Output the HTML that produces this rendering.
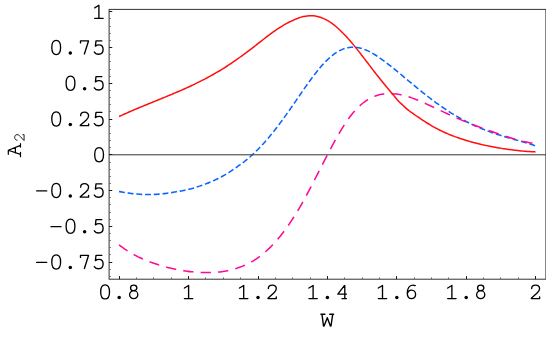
<!DOCTYPE html>
<html><head><meta charset="utf-8"><style>
html,body{margin:0;padding:0;background:#fff;}
svg{display:block;}
text{font-family:"Liberation Mono",monospace;fill:#111;}
</style></head><body>
<svg width="546" height="337" viewBox="0 0 546 337">
<rect width="546" height="337" fill="#fff"/>
<g fill="none" stroke-linecap="butt" stroke-linejoin="round">
<path d="M119.10 191.49 C120.10 191.69 121.11 191.89 122.11 192.07 C123.11 192.26 124.12 192.43 125.12 192.60 C126.12 192.77 127.13 192.92 128.13 193.07 C129.13 193.21 130.14 193.35 131.14 193.47 C132.14 193.59 133.15 193.71 134.15 193.81 C135.15 193.91 136.16 194.00 137.16 194.09 C138.16 194.17 139.17 194.24 140.17 194.30 C141.17 194.36 142.18 194.41 143.18 194.44 C144.18 194.48 145.19 194.51 146.19 194.52 C147.19 194.54 148.20 194.54 149.20 194.54 C150.20 194.53 151.21 194.51 152.21 194.48 C153.21 194.45 154.22 194.41 155.22 194.36 C156.23 194.31 157.23 194.25 158.23 194.18 C159.24 194.10 160.24 194.02 161.24 193.92 C162.25 193.83 163.25 193.72 164.25 193.61 C165.26 193.49 166.26 193.36 167.26 193.23 C168.27 193.09 169.27 192.94 170.27 192.78 C171.28 192.62 172.28 192.45 173.28 192.27 C174.29 192.09 175.29 191.89 176.29 191.71 C177.30 191.54 178.30 191.37 179.30 191.20 C180.31 191.02 181.31 190.85 182.31 190.65 C183.32 190.45 184.32 190.24 185.32 190.03 C186.33 189.82 187.33 189.60 188.33 189.37 C189.34 189.14 190.34 188.90 191.34 188.64 C192.35 188.39 193.35 188.12 194.35 187.83 C195.36 187.54 196.36 187.23 197.36 186.89 C198.37 186.56 199.37 186.22 200.37 185.87 C201.38 185.52 202.38 185.16 203.38 184.79 C204.39 184.42 205.39 184.04 206.39 183.65 C207.40 183.26 208.40 182.86 209.40 182.45 C210.41 182.04 211.41 181.62 212.41 181.18 C213.42 180.74 214.42 180.28 215.42 179.81 C216.43 179.34 217.43 178.86 218.43 178.36 C219.44 177.87 220.44 177.36 221.44 176.82 C222.45 176.28 223.45 175.72 224.46 175.14 C225.46 174.56 226.46 173.96 227.47 173.34 C228.47 172.73 229.47 172.09 230.48 171.42 C231.48 170.75 232.48 170.06 233.49 169.37 C234.49 168.68 235.49 168.00 236.50 167.33 C237.50 166.65 238.50 165.95 239.51 165.23 C240.51 164.51 241.51 163.77 242.52 163.01 C243.52 162.25 244.52 161.46 245.53 160.65 C246.53 159.84 247.53 159.01 248.54 158.15 C249.54 157.29 250.54 156.41 251.55 155.50 C252.55 154.60 253.55 153.66 254.56 152.71 C255.56 151.75 256.56 150.77 257.57 149.76 C258.57 148.75 259.57 147.72 260.58 146.66 C261.58 145.60 262.58 144.52 263.59 143.41 C264.59 142.30 265.59 141.17 266.60 140.01 C267.60 138.86 268.60 137.68 269.61 136.48 C270.61 135.27 271.61 134.05 272.62 132.80 C273.62 131.55 274.62 130.28 275.63 128.99 C276.63 127.70 277.63 126.40 278.64 125.07 C279.64 123.74 280.64 122.39 281.65 121.03 C282.65 119.67 283.65 118.29 284.66 116.90 C285.66 115.50 286.66 114.09 287.67 112.67 C288.67 111.26 289.67 109.82 290.68 108.39 C291.68 106.95 292.69 105.50 293.69 104.05 C294.69 102.59 295.70 101.14 296.70 99.68 C297.70 98.22 298.71 96.76 299.71 95.30 C300.71 93.84 301.72 92.39 302.72 90.94 C303.72 89.49 304.73 88.05 305.73 86.63 C306.73 85.20 307.74 83.78 308.74 82.39 C309.74 80.99 310.75 79.61 311.75 78.25 C312.75 76.89 313.76 75.56 314.76 74.25 C315.76 72.95 316.77 71.67 317.77 70.43 C318.77 69.19 319.78 67.98 320.78 66.82 C321.78 65.65 322.79 64.52 323.79 63.44 C324.79 62.36 325.80 61.33 326.80 60.34 C327.80 59.36 328.81 58.42 329.81 57.53 C330.81 56.65 331.82 55.82 332.82 55.04 C333.82 54.26 334.83 53.54 335.83 52.88 C336.83 52.21 337.84 51.61 338.84 51.06 C339.84 50.51 340.85 50.02 341.85 49.59 C342.85 49.16 343.86 48.78 344.86 48.47 C345.86 48.16 346.87 47.90 347.87 47.71 C348.87 47.51 349.88 47.38 350.88 47.30 C351.88 47.22 352.89 47.19 353.89 47.23 C354.89 47.26 355.90 47.34 356.90 47.48 C357.90 47.62 358.91 47.81 359.91 48.05 C360.91 48.29 361.92 48.58 362.92 48.92 C363.93 49.25 364.93 49.63 365.93 50.05 C366.94 50.46 367.94 50.92 368.94 51.42 C369.95 51.91 370.95 52.44 371.95 53.00 C372.96 53.56 373.96 54.15 374.96 54.77 C375.97 55.38 376.97 56.03 377.97 56.69 C378.98 57.36 379.98 58.05 380.98 58.76 C381.99 59.47 382.99 60.20 383.99 60.94 C385.00 61.69 386.00 62.45 387.00 63.22 C388.01 64.00 389.01 64.78 390.01 65.58 C391.02 66.37 392.02 67.18 393.02 67.99 C394.03 68.81 395.03 69.63 396.03 70.46 C397.04 71.28 398.04 72.11 399.04 72.95 C400.05 73.78 401.05 74.62 402.05 75.46 C403.06 76.30 404.06 77.14 405.06 77.98 C406.07 78.82 407.07 79.66 408.07 80.49 C409.08 81.33 410.08 82.17 411.08 83.00 C412.09 83.83 413.09 84.66 414.09 85.49 C415.10 86.32 416.10 87.14 417.10 87.96 C418.11 88.78 419.11 89.59 420.11 90.40 C421.12 91.21 422.12 92.01 423.12 92.81 C424.13 93.61 425.13 94.40 426.13 95.18 C427.14 95.96 428.14 96.74 429.14 97.51 C430.15 98.28 431.15 99.04 432.16 99.79 C433.16 100.54 434.16 101.29 435.17 102.02 C436.17 102.76 437.17 103.48 438.18 104.20 C439.18 104.92 440.18 105.62 441.19 106.32 C442.19 107.02 443.19 107.71 444.20 108.38 C445.20 109.06 446.20 109.73 447.21 110.38 C448.21 111.04 449.21 111.69 450.22 112.32 C451.22 112.96 452.22 113.58 453.23 114.19 C454.23 114.81 455.23 115.41 456.24 116.00 C457.24 116.59 458.24 117.17 459.25 117.74 C460.25 118.31 461.25 118.87 462.26 119.41 C463.26 119.96 464.26 120.50 465.27 121.02 C466.27 121.54 467.27 122.06 468.28 122.56 C469.28 123.06 470.28 123.56 471.29 124.04 C472.29 124.52 473.29 124.99 474.30 125.45 C475.30 125.91 476.30 126.36 477.31 126.80 C478.31 127.23 479.31 127.66 480.32 128.08 C481.32 128.50 482.32 128.91 483.33 129.31 C484.33 129.71 485.33 130.10 486.34 130.49 C487.34 130.87 488.34 131.24 489.35 131.61 C490.35 131.97 491.35 132.33 492.36 132.68 C493.36 133.03 494.36 133.38 495.37 133.71 C496.37 134.05 497.37 134.38 498.38 134.70 C499.38 135.02 500.39 135.34 501.39 135.65 C502.39 135.96 503.40 136.27 504.40 136.57 C505.40 136.88 506.41 137.17 507.41 137.47 C508.41 137.76 509.42 138.06 510.42 138.34 C511.42 138.63 512.43 138.92 513.43 139.21 C514.43 139.49 515.44 139.78 516.44 140.06 C517.44 140.35 518.45 140.63 519.45 140.92 C520.45 141.21 521.46 141.50 522.46 141.79 C523.46 142.08 524.47 142.37 525.47 142.67 C526.47 142.96 527.48 143.26 528.48 143.57 C529.48 143.87 530.49 144.19 531.49 144.50 C532.49 144.82 533.50 145.15 534.50 145.48" stroke="#0a64ff" stroke-width="1.55" stroke-linecap="square" stroke-dasharray="4.368 4.368" stroke-dashoffset="-0.7"/>
<path d="M119.10 244.99 C120.11 245.76 121.11 246.50 122.12 247.21 C123.12 247.93 124.13 248.62 125.13 249.29 C126.14 249.96 127.14 250.60 128.15 251.23 C129.15 251.85 130.16 252.46 131.16 253.04 C132.17 253.63 133.17 254.19 134.18 254.74 C135.19 255.28 136.19 255.81 137.20 256.32 C138.20 256.83 139.21 257.32 140.21 257.80 C141.22 258.27 142.22 258.73 143.23 259.18 C144.23 259.62 145.24 260.05 146.24 260.47 C147.25 260.89 148.25 261.29 149.26 261.68 C150.26 262.06 151.27 262.44 152.28 262.80 C153.28 263.16 154.29 263.51 155.29 263.85 C156.30 264.19 157.30 264.52 158.31 264.83 C159.31 265.15 160.32 265.45 161.32 265.74 C162.33 266.04 163.33 266.32 164.34 266.59 C165.34 266.87 166.35 267.13 167.36 267.38 C168.36 267.64 169.37 267.88 170.37 268.12 C171.38 268.35 172.38 268.57 173.39 268.79 C174.39 269.01 175.40 269.21 176.40 269.41 C177.41 269.61 178.41 269.80 179.42 269.98 C180.42 270.16 181.43 270.33 182.43 270.49 C183.44 270.65 184.45 270.81 185.45 270.95 C186.46 271.10 187.46 271.23 188.47 271.36 C189.47 271.49 190.48 271.60 191.48 271.71 C192.49 271.82 193.49 271.92 194.50 272.01 C195.50 272.10 196.51 272.18 197.51 272.25 C198.52 272.32 199.53 272.38 200.53 272.43 C201.54 272.48 202.54 272.52 203.55 272.55 C204.55 272.57 205.56 272.59 206.56 272.60 C207.57 272.60 208.57 272.59 209.58 272.58 C210.58 272.56 211.59 272.53 212.59 272.48 C213.60 272.44 214.60 272.38 215.61 272.31 C216.62 272.24 217.62 272.15 218.63 272.05 C219.63 271.95 220.64 271.83 221.64 271.70 C222.65 271.57 223.65 271.42 224.66 271.26 C225.66 271.09 226.67 270.91 227.67 270.71 C228.68 270.51 229.68 270.29 230.69 270.05 C231.70 269.82 232.70 269.56 233.71 269.28 C234.71 269.00 235.72 268.70 236.72 268.38 C237.73 268.06 238.73 267.71 239.74 267.34 C240.74 266.97 241.75 266.58 242.75 266.16 C243.76 265.74 244.76 265.30 245.77 264.83 C246.77 264.36 247.78 263.86 248.79 263.34 C249.79 262.81 250.80 262.25 251.80 261.67 C252.81 261.08 253.81 260.47 254.82 259.82 C255.82 259.17 256.83 258.49 257.83 257.78 C258.84 257.07 259.84 256.33 260.85 255.55 C261.85 254.77 262.86 253.96 263.87 253.11 C264.87 252.27 265.88 251.39 266.88 250.47 C267.89 249.55 268.89 248.60 269.90 247.61 C270.90 246.62 271.91 245.60 272.91 244.54 C273.92 243.48 274.92 242.38 275.93 241.25 C276.93 240.11 277.94 238.94 278.94 237.73 C279.95 236.52 280.96 235.27 281.96 233.99 C282.97 232.70 283.97 231.38 284.98 230.02 C285.98 228.66 286.99 227.26 287.99 225.82 C289.00 224.38 290.00 222.91 291.01 221.40 C292.01 219.88 293.02 218.33 294.02 216.75 C295.03 215.16 296.04 213.54 297.04 211.87 C298.05 210.21 299.05 208.52 300.06 206.78 C301.06 205.05 302.07 203.28 303.07 201.49 C304.08 199.69 305.08 197.86 306.09 196.01 C307.09 194.15 308.10 192.27 309.10 190.37 C310.11 188.47 311.11 186.54 312.12 184.61 C313.13 182.67 314.13 180.72 315.14 178.76 C316.14 176.80 317.15 174.83 318.15 172.86 C319.16 170.89 320.16 168.92 321.17 166.95 C322.17 164.98 323.18 163.01 324.18 161.06 C325.19 159.10 326.19 157.15 327.20 155.22 C328.21 153.28 329.21 151.36 330.22 149.46 C331.22 147.56 332.23 145.68 333.23 143.83 C334.24 141.98 335.24 140.16 336.25 138.37 C337.25 136.58 338.26 134.82 339.26 133.11 C340.27 131.40 341.27 129.73 342.28 128.11 C343.29 126.49 344.29 124.92 345.30 123.41 C346.30 121.89 347.31 120.44 348.31 119.04 C349.32 117.65 350.32 116.31 351.33 115.04 C352.33 113.76 353.34 112.55 354.34 111.41 C355.35 110.26 356.35 109.18 357.36 108.16 C358.36 107.14 359.37 106.18 360.38 105.28 C361.38 104.38 362.39 103.55 363.39 102.76 C364.40 101.98 365.40 101.26 366.41 100.59 C367.41 99.92 368.42 99.31 369.42 98.75 C370.43 98.18 371.43 97.67 372.44 97.21 C373.44 96.74 374.45 96.33 375.46 95.96 C376.46 95.59 377.47 95.27 378.47 94.99 C379.48 94.70 380.48 94.47 381.49 94.27 C382.49 94.07 383.50 93.92 384.50 93.80 C385.51 93.68 386.51 93.60 387.52 93.55 C388.52 93.50 389.53 93.49 390.53 93.51 C391.54 93.53 392.55 93.59 393.55 93.67 C394.56 93.75 395.56 93.87 396.57 94.01 C397.57 94.15 398.58 94.32 399.58 94.51 C400.59 94.70 401.59 94.92 402.60 95.16 C403.60 95.40 404.61 95.66 405.61 95.95 C406.62 96.23 407.63 96.53 408.63 96.86 C409.64 97.18 410.64 97.52 411.65 97.87 C412.65 98.23 413.66 98.60 414.66 98.98 C415.67 99.36 416.67 99.76 417.68 100.17 C418.68 100.58 419.69 101.00 420.69 101.43 C421.70 101.86 422.70 102.29 423.71 102.74 C424.72 103.18 425.72 103.64 426.73 104.09 C427.73 104.55 428.74 105.01 429.74 105.48 C430.75 105.95 431.75 106.42 432.76 106.89 C433.76 107.36 434.77 107.83 435.77 108.31 C436.78 108.79 437.78 109.26 438.79 109.74 C439.80 110.21 440.80 110.69 441.81 111.16 C442.81 111.63 443.82 112.11 444.82 112.58 C445.83 113.05 446.83 113.51 447.84 113.98 C448.84 114.44 449.85 114.90 450.85 115.36 C451.86 115.81 452.86 116.27 453.87 116.72 C454.87 117.16 455.88 117.61 456.89 118.05 C457.89 118.49 458.90 118.92 459.90 119.35 C460.91 119.78 461.91 120.20 462.92 120.62 C463.92 121.04 464.93 121.45 465.93 121.86 C466.94 122.27 467.94 122.67 468.95 123.07 C469.95 123.47 470.96 123.86 471.97 124.25 C472.97 124.64 473.98 125.03 474.98 125.41 C475.99 125.79 476.99 126.16 478.00 126.54 C479.00 126.91 480.01 127.28 481.01 127.64 C482.02 128.01 483.02 128.37 484.03 128.74 C485.03 129.10 486.04 129.46 487.04 129.82 C488.05 130.17 489.06 130.53 490.06 130.89 C491.07 131.24 492.07 131.59 493.08 131.95 C494.08 132.30 495.09 132.65 496.09 133.00 C497.10 133.35 498.10 133.69 499.11 134.04 C500.11 134.39 501.12 134.73 502.12 135.07 C503.13 135.41 504.14 135.75 505.14 136.08 C506.15 136.42 507.15 136.75 508.16 137.07 C509.16 137.40 510.17 137.72 511.17 138.04 C512.18 138.35 513.18 138.66 514.19 138.96 C515.19 139.26 516.20 139.56 517.20 139.84 C518.21 140.13 519.21 140.40 520.22 140.67 C521.23 140.93 522.23 141.19 523.24 141.42 C524.24 141.66 525.25 141.89 526.25 142.10 C527.26 142.31 528.26 142.51 529.27 142.68 C530.27 142.86 531.28 143.02 532.28 143.15 C533.29 143.29 534.29 143.40 535.30 143.49" stroke="#ff0a96" stroke-width="1.55" stroke-linecap="square" stroke-dasharray="8.736 8.736" stroke-dashoffset="-0.7"/>
<path d="M119.10 116.50 C119.77 116.19 120.43 115.88 121.10 115.57 C121.77 115.26 122.44 114.96 123.10 114.65 C123.77 114.35 124.44 114.05 125.11 113.75 C125.77 113.45 126.44 113.15 127.11 112.86 C127.77 112.56 128.44 112.27 129.11 111.98 C129.78 111.69 130.44 111.40 131.11 111.11 C131.78 110.82 132.45 110.53 133.11 110.25 C133.78 109.96 134.45 109.68 135.12 109.40 C135.78 109.11 136.45 108.83 137.12 108.56 C137.78 108.28 138.45 108.00 139.12 107.72 C139.79 107.45 140.45 107.17 141.12 106.90 C141.79 106.63 142.46 106.35 143.12 106.08 C143.79 105.81 144.46 105.54 145.12 105.26 C145.79 104.99 146.46 104.72 147.13 104.45 C147.79 104.18 148.46 103.90 149.13 103.63 C149.80 103.36 150.46 103.08 151.13 102.81 C151.80 102.54 152.47 102.26 153.13 101.99 C153.80 101.72 154.47 101.44 155.13 101.17 C155.80 100.90 156.47 100.63 157.14 100.36 C157.80 100.08 158.47 99.81 159.14 99.54 C159.81 99.27 160.47 98.99 161.14 98.72 C161.81 98.45 162.47 98.17 163.14 97.90 C163.81 97.63 164.48 97.35 165.14 97.08 C165.81 96.80 166.48 96.53 167.15 96.25 C167.81 95.97 168.48 95.70 169.15 95.42 C169.82 95.14 170.48 94.86 171.15 94.58 C171.82 94.31 172.48 94.03 173.15 93.75 C173.82 93.47 174.49 93.18 175.15 92.90 C175.82 92.62 176.49 92.34 177.16 92.05 C177.82 91.77 178.49 91.48 179.16 91.19 C179.82 90.91 180.49 90.62 181.16 90.33 C181.83 90.03 182.49 89.74 183.16 89.44 C183.83 89.15 184.50 88.85 185.16 88.55 C185.83 88.24 186.50 87.94 187.17 87.63 C187.83 87.33 188.50 87.02 189.17 86.70 C189.83 86.39 190.50 86.08 191.17 85.76 C191.84 85.44 192.50 85.13 193.17 84.80 C193.84 84.48 194.51 84.16 195.17 83.83 C195.84 83.51 196.51 83.18 197.18 82.85 C197.84 82.52 198.51 82.19 199.18 81.85 C199.84 81.52 200.51 81.18 201.18 80.85 C201.85 80.51 202.51 80.17 203.18 79.82 C203.85 79.48 204.52 79.14 205.18 78.79 C205.85 78.44 206.52 78.09 207.18 77.74 C207.85 77.39 208.52 77.03 209.19 76.67 C209.85 76.31 210.52 75.95 211.19 75.58 C211.86 75.21 212.52 74.84 213.19 74.47 C213.86 74.09 214.52 73.71 215.19 73.33 C215.86 72.95 216.53 72.56 217.19 72.17 C217.86 71.78 218.53 71.39 219.20 70.99 C219.86 70.59 220.53 70.19 221.20 69.78 C221.87 69.37 222.53 68.96 223.20 68.55 C223.87 68.13 224.53 67.71 225.20 67.28 C225.87 66.86 226.54 66.43 227.20 66.00 C227.87 65.56 228.54 65.12 229.21 64.68 C229.87 64.24 230.54 63.79 231.21 63.34 C231.88 62.89 232.54 62.43 233.21 61.97 C233.88 61.51 234.54 61.05 235.21 60.58 C235.88 60.11 236.55 59.64 237.21 59.17 C237.88 58.71 238.55 58.23 239.22 57.76 C239.88 57.29 240.55 56.81 241.22 56.34 C241.88 55.86 242.55 55.38 243.22 54.89 C243.89 54.41 244.55 53.92 245.22 53.43 C245.89 52.94 246.56 52.44 247.22 51.94 C247.89 51.44 248.56 50.93 249.22 50.42 C249.89 49.91 250.56 49.39 251.23 48.88 C251.89 48.36 252.56 47.84 253.23 47.32 C253.90 46.80 254.56 46.28 255.23 45.76 C255.90 45.24 256.57 44.72 257.23 44.19 C257.90 43.67 258.57 43.15 259.23 42.63 C259.90 42.10 260.57 41.58 261.24 41.06 C261.90 40.54 262.57 40.02 263.24 39.50 C263.91 38.98 264.57 38.47 265.24 37.95 C265.91 37.44 266.57 36.93 267.24 36.42 C267.91 35.92 268.58 35.41 269.24 34.91 C269.91 34.42 270.58 33.92 271.25 33.43 C271.91 32.95 272.58 32.46 273.25 31.98 C273.92 31.51 274.58 31.04 275.25 30.57 C275.92 30.11 276.58 29.65 277.25 29.20 C277.92 28.74 278.59 28.30 279.25 27.86 C279.92 27.43 280.59 27.00 281.26 26.58 C281.92 26.16 282.59 25.75 283.26 25.35 C283.93 24.95 284.59 24.56 285.26 24.18 C285.93 23.80 286.59 23.43 287.26 23.07 C287.93 22.72 288.60 22.37 289.26 22.04 C289.93 21.71 290.60 21.39 291.27 21.08 C291.93 20.78 292.60 20.48 293.27 20.19 C293.93 19.91 294.60 19.63 295.27 19.37 C295.94 19.10 296.60 18.85 297.27 18.59 C297.94 18.32 298.61 18.05 299.27 17.81 C299.94 17.56 300.61 17.35 301.27 17.15 C301.94 16.95 302.61 16.76 303.28 16.60 C303.94 16.44 304.61 16.31 305.28 16.19 C305.95 16.08 306.61 15.98 307.28 15.91 C307.95 15.84 308.62 15.79 309.28 15.76 C309.95 15.74 310.62 15.73 311.28 15.74 C311.95 15.76 312.62 15.80 313.29 15.86 C313.95 15.92 314.62 16.00 315.29 16.11 C315.96 16.21 316.62 16.35 317.29 16.50 C317.96 16.66 318.62 16.83 319.29 17.03 C319.96 17.23 320.63 17.44 321.29 17.67 C321.96 17.90 322.63 18.15 323.30 18.43 C323.96 18.70 324.63 19.00 325.30 19.32 C325.97 19.65 326.63 20.01 327.30 20.39 C327.97 20.77 328.63 21.18 329.30 21.60 C329.97 22.03 330.64 22.49 331.30 22.96 C331.97 23.43 332.64 23.92 333.31 24.43 C333.97 24.94 334.64 25.47 335.31 26.02 C335.97 26.56 336.64 27.13 337.31 27.71 C337.98 28.29 338.64 28.89 339.31 29.51 C339.98 30.13 340.65 30.77 341.31 31.42 C341.98 32.07 342.65 32.74 343.32 33.42 C343.98 34.10 344.65 34.79 345.32 35.50 C345.98 36.21 346.65 36.93 347.32 37.67 C347.99 38.41 348.65 39.16 349.32 39.92 C349.99 40.69 350.66 41.46 351.32 42.25 C351.99 43.04 352.66 43.84 353.32 44.64 C353.99 45.45 354.66 46.27 355.33 47.10 C355.99 47.92 356.66 48.75 357.33 49.60 C358.00 50.44 358.66 51.28 359.33 52.14 C360.00 52.99 360.67 53.85 361.33 54.71 C362.00 55.57 362.67 56.43 363.33 57.30 C364.00 58.17 364.67 59.04 365.34 59.91 C366.00 60.79 366.67 61.66 367.34 62.54 C368.01 63.41 368.67 64.28 369.34 65.16 C370.01 66.03 370.68 66.90 371.34 67.77 C372.01 68.64 372.68 69.51 373.34 70.38 C374.01 71.24 374.68 72.11 375.35 72.96 C376.01 73.82 376.68 74.68 377.35 75.53 C378.02 76.38 378.68 77.22 379.35 78.06 C380.02 78.90 380.68 79.73 381.35 80.56 C382.02 81.39 382.69 82.21 383.35 83.02 C384.02 83.83 384.69 84.64 385.36 85.44 C386.02 86.24 386.69 87.06 387.36 87.87 C388.03 88.69 388.69 89.50 389.36 90.32 C390.03 91.13 390.69 91.94 391.36 92.75 C392.03 93.55 392.70 94.33 393.36 95.13 C394.03 95.93 394.70 96.76 395.37 97.57 C396.03 98.38 396.70 99.18 397.37 99.90 C398.03 100.63 398.70 101.28 399.37 101.94 C400.04 102.61 400.70 103.26 401.37 103.90 C402.04 104.54 402.71 105.17 403.37 105.79 C404.04 106.42 404.71 107.03 405.38 107.63 C406.04 108.23 406.71 108.83 407.38 109.40 C408.04 109.97 408.71 110.50 409.38 111.01 C410.05 111.52 410.71 112.00 411.38 112.47 C412.05 112.94 412.72 113.39 413.38 113.85 C414.05 114.31 414.72 114.78 415.38 115.25 C416.05 115.71 416.72 116.17 417.39 116.61 C418.05 117.06 418.72 117.50 419.39 117.95 C420.06 118.39 420.72 118.83 421.39 119.29 C422.06 119.74 422.72 120.21 423.39 120.65 C424.06 121.10 424.73 121.54 425.39 121.98 C426.06 122.41 426.73 122.83 427.40 123.25 C428.06 123.67 428.73 124.08 429.40 124.48 C430.07 124.88 430.73 125.27 431.40 125.66 C432.07 126.05 432.73 126.43 433.40 126.80 C434.07 127.17 434.74 127.53 435.40 127.89 C436.07 128.25 436.74 128.60 437.41 128.95 C438.07 129.29 438.74 129.63 439.41 129.96 C440.07 130.29 440.74 130.62 441.41 130.94 C442.08 131.26 442.74 131.57 443.41 131.88 C444.08 132.18 444.75 132.49 445.41 132.78 C446.08 133.08 446.75 133.37 447.42 133.65 C448.08 133.94 448.75 134.22 449.42 134.49 C450.08 134.77 450.75 135.04 451.42 135.30 C452.09 135.57 452.75 135.83 453.42 136.08 C454.09 136.34 454.76 136.59 455.42 136.83 C456.09 137.08 456.76 137.32 457.42 137.55 C458.09 137.79 458.76 138.02 459.43 138.25 C460.09 138.48 460.76 138.70 461.43 138.92 C462.10 139.14 462.76 139.36 463.43 139.57 C464.10 139.78 464.77 139.99 465.43 140.20 C466.10 140.40 466.77 140.60 467.43 140.80 C468.10 141.00 468.77 141.19 469.44 141.38 C470.10 141.57 470.77 141.76 471.44 141.95 C472.11 142.13 472.77 142.31 473.44 142.49 C474.11 142.67 474.78 142.84 475.44 143.01 C476.11 143.18 476.78 143.35 477.44 143.52 C478.11 143.68 478.78 143.85 479.45 144.01 C480.11 144.17 480.78 144.32 481.45 144.48 C482.12 144.63 482.78 144.79 483.45 144.93 C484.12 145.08 484.78 145.23 485.45 145.37 C486.12 145.52 486.79 145.66 487.45 145.80 C488.12 145.94 488.79 146.08 489.46 146.21 C490.12 146.34 490.79 146.48 491.46 146.61 C492.13 146.74 492.79 146.86 493.46 146.99 C494.13 147.11 494.79 147.24 495.46 147.36 C496.13 147.48 496.80 147.59 497.46 147.71 C498.13 147.83 498.80 147.94 499.47 148.05 C500.13 148.16 500.80 148.27 501.47 148.38 C502.13 148.49 502.80 148.59 503.47 148.70 C504.14 148.80 504.80 148.90 505.47 149.00 C506.14 149.10 506.81 149.19 507.47 149.29 C508.14 149.38 508.81 149.48 509.48 149.57 C510.14 149.66 510.81 149.74 511.48 149.83 C512.14 149.92 512.81 150.00 513.48 150.08 C514.15 150.16 514.81 150.24 515.48 150.32 C516.15 150.40 516.82 150.47 517.48 150.54 C518.15 150.61 518.82 150.68 519.48 150.75 C520.15 150.82 520.82 150.89 521.49 150.95 C522.15 151.01 522.82 151.07 523.49 151.13 C524.16 151.19 524.82 151.24 525.49 151.30 C526.16 151.35 526.83 151.40 527.49 151.45 C528.16 151.50 528.83 151.54 529.49 151.58 C530.16 151.63 530.83 151.67 531.50 151.70 C532.16 151.74 532.83 151.77 533.50 151.81 C534.17 151.84 534.83 151.86 535.50 151.89" stroke="#ff0f0f" stroke-width="1.5"/>
</g>
<g stroke="#333" stroke-width="1" fill="none">
<line x1="109.10" y1="154.80" x2="545.90" y2="154.80"/>
<rect x="109.10" y="9.40" width="436.80" height="269.80"/>
</g>
<g stroke="#1a1a1a" stroke-width="1">
<line x1="119.50" y1="279.20" x2="119.50" y2="276.05"/>
<line x1="188.50" y1="279.20" x2="188.50" y2="276.05"/>
<line x1="258.50" y1="279.20" x2="258.50" y2="276.05"/>
<line x1="327.50" y1="279.20" x2="327.50" y2="276.05"/>
<line x1="396.50" y1="279.20" x2="396.50" y2="276.05"/>
<line x1="466.50" y1="279.20" x2="466.50" y2="276.05"/>
<line x1="535.50" y1="279.20" x2="535.50" y2="276.05"/>
<line x1="109.10" y1="262.50" x2="112.25" y2="262.50"/>
<line x1="109.10" y1="226.50" x2="112.25" y2="226.50"/>
<line x1="109.10" y1="190.50" x2="112.25" y2="190.50"/>
<line x1="109.10" y1="154.50" x2="112.25" y2="154.50"/>
<line x1="109.10" y1="119.50" x2="112.25" y2="119.50"/>
<line x1="109.10" y1="83.50" x2="112.25" y2="83.50"/>
<line x1="109.10" y1="47.50" x2="112.25" y2="47.50"/>
<line x1="109.10" y1="11.50" x2="112.25" y2="11.50"/>
</g>
<g stroke="#666" stroke-width="1">
<line x1="136.50" y1="279.20" x2="136.50" y2="277.45"/>
<line x1="153.50" y1="279.20" x2="153.50" y2="277.45"/>
<line x1="171.50" y1="279.20" x2="171.50" y2="277.45"/>
<line x1="205.50" y1="279.20" x2="205.50" y2="277.45"/>
<line x1="223.50" y1="279.20" x2="223.50" y2="277.45"/>
<line x1="240.50" y1="279.20" x2="240.50" y2="277.45"/>
<line x1="275.50" y1="279.20" x2="275.50" y2="277.45"/>
<line x1="292.50" y1="279.20" x2="292.50" y2="277.45"/>
<line x1="310.50" y1="279.20" x2="310.50" y2="277.45"/>
<line x1="344.50" y1="279.20" x2="344.50" y2="277.45"/>
<line x1="362.50" y1="279.20" x2="362.50" y2="277.45"/>
<line x1="379.50" y1="279.20" x2="379.50" y2="277.45"/>
<line x1="414.50" y1="279.20" x2="414.50" y2="277.45"/>
<line x1="431.50" y1="279.20" x2="431.50" y2="277.45"/>
<line x1="448.50" y1="279.20" x2="448.50" y2="277.45"/>
<line x1="483.50" y1="279.20" x2="483.50" y2="277.45"/>
<line x1="500.50" y1="279.20" x2="500.50" y2="277.45"/>
<line x1="518.50" y1="279.20" x2="518.50" y2="277.45"/>
<line x1="109.10" y1="276.50" x2="110.85" y2="276.50"/>
<line x1="109.10" y1="269.50" x2="110.85" y2="269.50"/>
<line x1="109.10" y1="254.50" x2="110.85" y2="254.50"/>
<line x1="109.10" y1="247.50" x2="110.85" y2="247.50"/>
<line x1="109.10" y1="240.50" x2="110.85" y2="240.50"/>
<line x1="109.10" y1="233.50" x2="110.85" y2="233.50"/>
<line x1="109.10" y1="219.50" x2="110.85" y2="219.50"/>
<line x1="109.10" y1="212.50" x2="110.85" y2="212.50"/>
<line x1="109.10" y1="204.50" x2="110.85" y2="204.50"/>
<line x1="109.10" y1="197.50" x2="110.85" y2="197.50"/>
<line x1="109.10" y1="183.50" x2="110.85" y2="183.50"/>
<line x1="109.10" y1="176.50" x2="110.85" y2="176.50"/>
<line x1="109.10" y1="169.50" x2="110.85" y2="169.50"/>
<line x1="109.10" y1="162.50" x2="110.85" y2="162.50"/>
<line x1="109.10" y1="147.50" x2="110.85" y2="147.50"/>
<line x1="109.10" y1="140.50" x2="110.85" y2="140.50"/>
<line x1="109.10" y1="133.50" x2="110.85" y2="133.50"/>
<line x1="109.10" y1="126.50" x2="110.85" y2="126.50"/>
<line x1="109.10" y1="111.50" x2="110.85" y2="111.50"/>
<line x1="109.10" y1="104.50" x2="110.85" y2="104.50"/>
<line x1="109.10" y1="97.50" x2="110.85" y2="97.50"/>
<line x1="109.10" y1="90.50" x2="110.85" y2="90.50"/>
<line x1="109.10" y1="76.50" x2="110.85" y2="76.50"/>
<line x1="109.10" y1="69.50" x2="110.85" y2="69.50"/>
<line x1="109.10" y1="61.50" x2="110.85" y2="61.50"/>
<line x1="109.10" y1="54.50" x2="110.85" y2="54.50"/>
<line x1="109.10" y1="40.50" x2="110.85" y2="40.50"/>
<line x1="109.10" y1="33.50" x2="110.85" y2="33.50"/>
<line x1="109.10" y1="26.50" x2="110.85" y2="26.50"/>
<line x1="109.10" y1="18.50" x2="110.85" y2="18.50"/>
</g>
<g fill="none" stroke="#000" stroke-width="1.34" stroke-linecap="round" stroke-linejoin="round">
<g transform="translate(98.90 11.70)"><path d="M-4.2 -3.8 L0 -6.4 L0 6.7 M-4.2 6.7 H4.2"/></g>
<g transform="translate(56.00 47.45)"><path d="M0 -7.05 C2.90 -7.05 4.40 -4.65 4.40 0 C4.40 4.65 2.90 7.05 0 7.05 C-2.90 7.05 -4.40 4.65 -4.40 0 C-4.40 -4.65 -2.90 -7.05 0 -7.05 Z" transform="translate(0.2 0.05)"/></g><g transform="translate(70.30 47.45)"><circle cx="0" cy="5.55" r="1.75" fill="#000" stroke="none"/></g><g transform="translate(84.60 47.45)"><path d="M-4.1 -4.5 V-6.5 H3.9 L-0.2 6.5"/></g><g transform="translate(98.90 47.45)"><path d="M2.9 -6.5 L-2.9 -6.5 L-3.5 -1.3 C-2.4 -2.2 -1.2 -2.6 0.1 -2.6 C2.6 -2.6 4.2 -0.6 4.2 2.1 C4.2 4.8 2.5 6.8 -0.1 6.8 C-2.0 6.8 -3.6 6.1 -4.6 4.6"/></g>
<g transform="translate(70.30 83.20)"><path d="M0 -7.05 C2.90 -7.05 4.40 -4.65 4.40 0 C4.40 4.65 2.90 7.05 0 7.05 C-2.90 7.05 -4.40 4.65 -4.40 0 C-4.40 -4.65 -2.90 -7.05 0 -7.05 Z" transform="translate(0.2 0.05)"/></g><g transform="translate(84.60 83.20)"><circle cx="0" cy="5.55" r="1.75" fill="#000" stroke="none"/></g><g transform="translate(98.90 83.20)"><path d="M2.9 -6.5 L-2.9 -6.5 L-3.5 -1.3 C-2.4 -2.2 -1.2 -2.6 0.1 -2.6 C2.6 -2.6 4.2 -0.6 4.2 2.1 C4.2 4.8 2.5 6.8 -0.1 6.8 C-2.0 6.8 -3.6 6.1 -4.6 4.6"/></g>
<g transform="translate(56.00 118.95)"><path d="M0 -7.05 C2.90 -7.05 4.40 -4.65 4.40 0 C4.40 4.65 2.90 7.05 0 7.05 C-2.90 7.05 -4.40 4.65 -4.40 0 C-4.40 -4.65 -2.90 -7.05 0 -7.05 Z" transform="translate(0.2 0.05)"/></g><g transform="translate(70.30 118.95)"><circle cx="0" cy="5.55" r="1.75" fill="#000" stroke="none"/></g><g transform="translate(84.60 118.95)"><path d="M-3.95 -3.3 C-3.95 -5.3 -2.3 -6.75 0.05 -6.75 C2.4 -6.75 4.0 -5.3 4.0 -3.3 C4.0 -1.4 3.0 -0.2 1.5 1.2 L-4.3 6.4 L-4.3 6.7 L4.0 6.7 L4.0 5.0"/></g><g transform="translate(98.90 118.95)"><path d="M2.9 -6.5 L-2.9 -6.5 L-3.5 -1.3 C-2.4 -2.2 -1.2 -2.6 0.1 -2.6 C2.6 -2.6 4.2 -0.6 4.2 2.1 C4.2 4.8 2.5 6.8 -0.1 6.8 C-2.0 6.8 -3.6 6.1 -4.6 4.6"/></g>
<g transform="translate(98.90 154.70)"><path d="M0 -7.05 C2.90 -7.05 4.40 -4.65 4.40 0 C4.40 4.65 2.90 7.05 0 7.05 C-2.90 7.05 -4.40 4.65 -4.40 0 C-4.40 -4.65 -2.90 -7.05 0 -7.05 Z" transform="translate(0.2 0.05)"/></g>
<g transform="translate(41.70 190.45)"><path d="M-5.0 0.5 H5.0"/></g><g transform="translate(56.00 190.45)"><path d="M0 -7.05 C2.90 -7.05 4.40 -4.65 4.40 0 C4.40 4.65 2.90 7.05 0 7.05 C-2.90 7.05 -4.40 4.65 -4.40 0 C-4.40 -4.65 -2.90 -7.05 0 -7.05 Z" transform="translate(0.2 0.05)"/></g><g transform="translate(70.30 190.45)"><circle cx="0" cy="5.55" r="1.75" fill="#000" stroke="none"/></g><g transform="translate(84.60 190.45)"><path d="M-3.95 -3.3 C-3.95 -5.3 -2.3 -6.75 0.05 -6.75 C2.4 -6.75 4.0 -5.3 4.0 -3.3 C4.0 -1.4 3.0 -0.2 1.5 1.2 L-4.3 6.4 L-4.3 6.7 L4.0 6.7 L4.0 5.0"/></g><g transform="translate(98.90 190.45)"><path d="M2.9 -6.5 L-2.9 -6.5 L-3.5 -1.3 C-2.4 -2.2 -1.2 -2.6 0.1 -2.6 C2.6 -2.6 4.2 -0.6 4.2 2.1 C4.2 4.8 2.5 6.8 -0.1 6.8 C-2.0 6.8 -3.6 6.1 -4.6 4.6"/></g>
<g transform="translate(56.00 226.20)"><path d="M-5.0 0.5 H5.0"/></g><g transform="translate(70.30 226.20)"><path d="M0 -7.05 C2.90 -7.05 4.40 -4.65 4.40 0 C4.40 4.65 2.90 7.05 0 7.05 C-2.90 7.05 -4.40 4.65 -4.40 0 C-4.40 -4.65 -2.90 -7.05 0 -7.05 Z" transform="translate(0.2 0.05)"/></g><g transform="translate(84.60 226.20)"><circle cx="0" cy="5.55" r="1.75" fill="#000" stroke="none"/></g><g transform="translate(98.90 226.20)"><path d="M2.9 -6.5 L-2.9 -6.5 L-3.5 -1.3 C-2.4 -2.2 -1.2 -2.6 0.1 -2.6 C2.6 -2.6 4.2 -0.6 4.2 2.1 C4.2 4.8 2.5 6.8 -0.1 6.8 C-2.0 6.8 -3.6 6.1 -4.6 4.6"/></g>
<g transform="translate(41.70 261.95)"><path d="M-5.0 0.5 H5.0"/></g><g transform="translate(56.00 261.95)"><path d="M0 -7.05 C2.90 -7.05 4.40 -4.65 4.40 0 C4.40 4.65 2.90 7.05 0 7.05 C-2.90 7.05 -4.40 4.65 -4.40 0 C-4.40 -4.65 -2.90 -7.05 0 -7.05 Z" transform="translate(0.2 0.05)"/></g><g transform="translate(70.30 261.95)"><circle cx="0" cy="5.55" r="1.75" fill="#000" stroke="none"/></g><g transform="translate(84.60 261.95)"><path d="M-4.1 -4.5 V-6.5 H3.9 L-0.2 6.5"/></g><g transform="translate(98.90 261.95)"><path d="M2.9 -6.5 L-2.9 -6.5 L-3.5 -1.3 C-2.4 -2.2 -1.2 -2.6 0.1 -2.6 C2.6 -2.6 4.2 -0.6 4.2 2.1 C4.2 4.8 2.5 6.8 -0.1 6.8 C-2.0 6.8 -3.6 6.1 -4.6 4.6"/></g>
<g transform="translate(104.90 291.85)"><path d="M0 -7.05 C2.90 -7.05 4.40 -4.65 4.40 0 C4.40 4.65 2.90 7.05 0 7.05 C-2.90 7.05 -4.40 4.65 -4.40 0 C-4.40 -4.65 -2.90 -7.05 0 -7.05 Z" transform="translate(0.2 0.05)"/></g><g transform="translate(119.20 291.85)"><circle cx="0" cy="5.55" r="1.75" fill="#000" stroke="none"/></g><g transform="translate(133.50 291.85)"><ellipse cx="0.2" cy="-3.95" rx="3.15" ry="2.8"/><ellipse cx="0.2" cy="2.85" rx="4.1" ry="4.0"/></g>
<g transform="translate(188.60 291.85)"><path d="M-4.2 -3.8 L0 -6.4 L0 6.7 M-4.2 6.7 H4.2"/></g>
<g transform="translate(243.70 291.85)"><path d="M-4.2 -3.8 L0 -6.4 L0 6.7 M-4.2 6.7 H4.2"/></g><g transform="translate(258.00 291.85)"><circle cx="0" cy="5.55" r="1.75" fill="#000" stroke="none"/></g><g transform="translate(272.30 291.85)"><path d="M-3.95 -3.3 C-3.95 -5.3 -2.3 -6.75 0.05 -6.75 C2.4 -6.75 4.0 -5.3 4.0 -3.3 C4.0 -1.4 3.0 -0.2 1.5 1.2 L-4.3 6.4 L-4.3 6.7 L4.0 6.7 L4.0 5.0"/></g>
<g transform="translate(313.10 291.85)"><path d="M-4.2 -3.8 L0 -6.4 L0 6.7 M-4.2 6.7 H4.2"/></g><g transform="translate(327.40 291.85)"><circle cx="0" cy="5.55" r="1.75" fill="#000" stroke="none"/></g><g transform="translate(341.70 291.85)"><path d="M3.1 -6.3 V6.7 M2.7 -6.3 L-3.9 2.2 M-3.9 2.3 H4.7 M0.3 6.7 H4.7"/></g>
<g transform="translate(382.50 291.85)"><path d="M-4.2 -3.8 L0 -6.4 L0 6.7 M-4.2 6.7 H4.2"/></g><g transform="translate(396.80 291.85)"><circle cx="0" cy="5.55" r="1.75" fill="#000" stroke="none"/></g><g transform="translate(411.10 291.85)"><path d="M4.2 -6.3 C3.4 -6.7 2.7 -6.8 1.8 -6.8 C-1.7 -6.8 -3.8 -3.2 -3.8 1.5 C-3.8 4.9 -2.2 6.85 0.4 6.85 C2.8 6.85 4.5 5.1 4.5 2.6 C4.5 0.2 2.9 -1.8 0.6 -1.8 C-1.5 -1.8 -3.2 -0.3 -3.7 1.8"/></g>
<g transform="translate(451.90 291.85)"><path d="M-4.2 -3.8 L0 -6.4 L0 6.7 M-4.2 6.7 H4.2"/></g><g transform="translate(466.20 291.85)"><circle cx="0" cy="5.55" r="1.75" fill="#000" stroke="none"/></g><g transform="translate(480.50 291.85)"><ellipse cx="0.2" cy="-3.95" rx="3.15" ry="2.8"/><ellipse cx="0.2" cy="2.85" rx="4.1" ry="4.0"/></g>
<g transform="translate(535.60 291.85)"><path d="M-3.95 -3.3 C-3.95 -5.3 -2.3 -6.75 0.05 -6.75 C2.4 -6.75 4.0 -5.3 4.0 -3.3 C4.0 -1.4 3.0 -0.2 1.5 1.2 L-4.3 6.4 L-4.3 6.7 L4.0 6.7 L4.0 5.0"/></g>
</g>
<g fill="none" stroke="#000" stroke-width="1.4" stroke-linecap="round" stroke-linejoin="round">
<path d="M320.9 314.3 H324.9 M329.7 314.3 H333.6 M322 314.3 L323.5 326.0 L324.1 326.0 L327.3 317.7 L330.4 326.0 L331.0 326.0 L332.7 314.3"/>
</g>
<g transform="translate(20.5 149.9) rotate(-90)" fill="none" stroke="#000" stroke-width="1.2" stroke-linecap="round" stroke-linejoin="round">
<path d="M-6.8 0 H-2.4 M2.8 0 H6.2 M-4.5 0 L-0.4 -12.2 L4.5 0 M-4.4 -12.2 H-0.4 M-3.0 -5.1 H2.6"/>
</g>
<g transform="translate(19.4 137.45) rotate(-90) scale(0.7)" fill="none" stroke="#000" stroke-width="1.3" stroke-linecap="round" stroke-linejoin="round">
<path d="M-3.95 -3.3 C-3.95 -5.3 -2.3 -6.75 0.05 -6.75 C2.4 -6.75 4.0 -5.3 4.0 -3.3 C4.0 -1.4 3.0 -0.2 1.5 1.2 L-4.3 6.4 L-4.3 6.7 L4.0 6.7 L4.0 5.0"/>
</g>
</svg>
</body></html>
